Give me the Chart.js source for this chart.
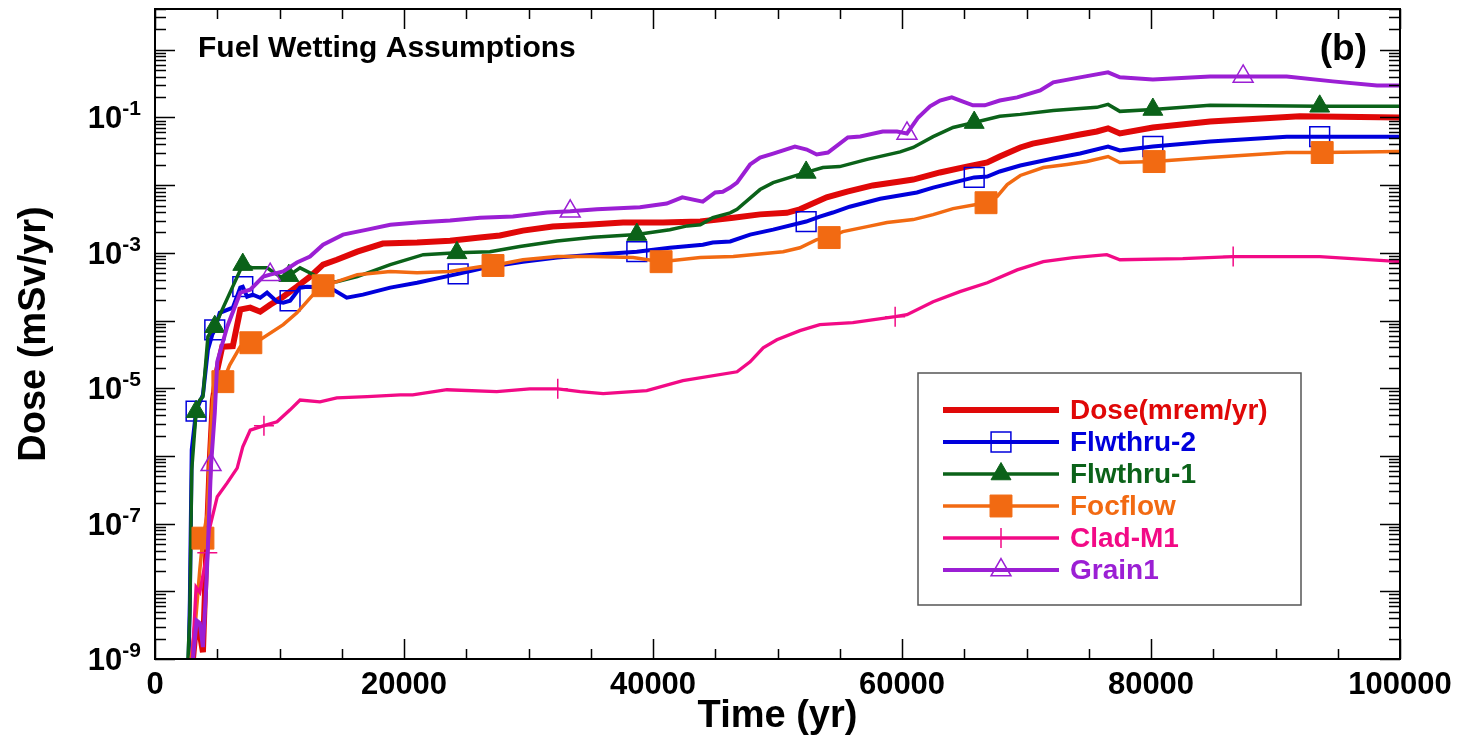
<!DOCTYPE html>
<html>
<head>
<meta charset="utf-8">
<script src="https://cdn.jsdelivr.net/npm/chart.js@4.4.1/dist/chart.umd.min.js"></script>
<style>
  html, body { margin: 0; background: #fff; }
  #wrap { width: 1463px; height: 749px; }
</style>
</head>
<body>
<div id="wrap"><canvas id="doseChart"></canvas></div>
<script>
// time (yr) and dose (mSv/yr)
const doseTime = [3050,3300,3550,3850,4100,4400,4650,5000,5400,6250,6850,7650,8450,9250,10300,11400,12450,13500,14600,16250,18300,21050,23700,26100,27700,29550,31950,34700,37600,40800,43800,46450,48600,50750,51800,53950,55600,57650,59850,60900,63050,65200,66850,67850,69500,70500,72700,74300,75650,76550,77500,80150,84750,91950,100000];
const doseVal = [1.0e-9,3.2e-9,2.7e-9,1.26e-9,2.9e-8,8.7e-7,6.7e-6,1.87e-5,4.1e-5,4.2e-5,1.45e-4,1.55e-4,1.35e-4,1.71e-4,2.25e-4,3.16e-4,4.45e-4,6.7e-4,7.9e-4,1.04e-3,1.37e-3,1.42e-3,1.51e-3,1.68e-3,1.8e-3,2.13e-3,2.44e-3,2.6e-3,2.8e-3,2.8e-3,2.9e-3,3.3e-3,3.7e-3,3.9e-3,4.4e-3,6.6e-3,8.0e-3,9.9e-3,1.13e-2,1.21e-2,1.54e-2,1.88e-2,2.16e-2,2.65e-2,3.6e-2,4.1e-2,4.9e-2,5.6e-2,6.2e-2,6.9e-2,5.8e-2,7.1e-2,8.7e-2,0.104,0.1];

const flw2Time = [2700,2800,2950,3300,3850,4250,4600,4800,5200,6250,6850,7050,7400,7850,8450,9000,9800,10300,10850,11100,11650,12200,14050,15400,16700,18900,21050,23700,24350,26900,29550,32300,35200,38700,41350,44000,44800,46200,47800,49650,52300,53400,54450,55800,58250,61200,62500,65800,66850,67850,69500,72150,74300,76550,77500,80150,84750,90900,93550,100000];
const flw2Val = [1e-9,7.4e-9,1.23e-6,4.6e-6,8.0e-6,3.7e-5,6.2e-5,7.3e-5,1.3e-4,1.55e-4,3.06e-4,3.16e-4,2.25e-4,2.41e-4,2.17e-4,2.58e-4,1.9e-4,1.83e-4,1.96e-4,2.25e-4,3.06e-4,3.16e-4,3.06e-4,2.17e-4,2.41e-4,3.06e-4,3.62e-4,4.6e-4,4.9e-4,6.25e-4,7.4e-4,8.5e-4,9.4e-4,1.04e-3,1.19e-3,1.32e-3,1.42e-3,1.47e-3,1.86e-3,2.2e-3,2.9e-3,3.43e-3,3.94e-3,4.8e-3,6.3e-3,7.8e-3,9.2e-3,1.3e-2,1.34e-2,1.59e-2,1.95e-2,2.47e-2,2.93e-2,3.72e-2,3.25e-2,3.72e-2,4.4e-2,5.2e-2,5.2e-2,5.2e-2];
const flw2Marks = [3300,4800,7050,10850,24350,38700,52300,65800,80150,93550];

const flw1Time = [2650,2800,2950,3300,3600,3850,4250,4600,4800,5400,7050,7850,9000,10050,10750,11650,12700,13500,14600,16250,18900,21550,24250,26900,29300,32300,35200,38700,41350,42750,43800,44800,46200,46750,48600,49650,52300,53650,55000,57200,59850,60900,62500,64100,65800,67850,69500,72150,75650,76550,77500,80150,84750,93550,100000];
const flw1Val = [1.0e-9,4.8e-9,6.2e-7,4.5e-6,6.7e-6,7.5e-6,5.8e-5,7.3e-5,8.1e-5,1.45e-4,6.7e-4,6.0e-4,6.0e-4,4.45e-4,4.6e-4,6.0e-4,4.8e-4,3.75e-4,3.75e-4,4.45e-4,6.7e-4,9.4e-4,1.0e-3,1.04e-3,1.24e-3,1.5e-3,1.7e-3,1.86e-3,2.2e-3,2.5e-3,2.6e-3,3.3e-3,3.9e-3,4.4e-3,8.6e-3,1.09e-2,1.54e-2,1.82e-2,1.88e-2,2.4e-2,3.1e-2,3.6e-2,5.2e-2,7.1e-2,8.4e-2,0.104,0.111,0.127,0.141,0.156,0.123,0.131,0.151,0.146,0.146];
const flw1Marks = [3300,4800,7050,10750,24250,38700,52300,65800,80150,93550];

const focTime = [2900,3200,3600,3850,4200,4400,4650,5050,5450,6000,6850,7700,8450,10300,11400,12700,13500,14600,16250,18900,21050,23700,26100,27150,29550,32300,35200,38400,40650,43800,46450,50450,51800,53150,54150,55250,57200,58800,60900,62500,64100,66750,67650,68450,69500,71350,73250,74850,76550,77500,80250,84750,90900,93750,100000];
const focVal = [1e-9,2.7e-9,2.1e-8,6.1e-8,1.4e-7,1.23e-6,7.5e-6,1.2e-5,1.25e-5,2.2e-5,4.1e-5,4.7e-5,5.2e-5,8.7e-5,1.3e-4,2.41e-4,3.27e-4,3.75e-4,4.76e-4,5.3e-4,5.1e-4,5.3e-4,6.25e-4,6.5e-4,7.9e-4,8.8e-4,8.8e-4,8.5e-4,7.4e-4,8.5e-4,8.8e-4,1.04e-3,1.19e-3,1.57e-3,1.68e-3,2.06e-3,2.44e-3,2.8e-3,3.1e-3,3.67e-3,4.5e-3,5.5e-3,6.8e-3,1.02e-2,1.39e-2,1.82e-2,2.02e-2,2.23e-2,2.65e-2,2.16e-2,2.23e-2,2.56e-2,3.03e-2,3.03e-2,3.14e-2];
const focMarks = [3850,5450,7700,13500,27150,40650,54150,66750,80250,93750];

const cladTime = [3000,3300,3600,3850,4200,4350,5000,5800,6600,7050,7650,8750,9800,10850,11650,13250,14600,17050,19700,20700,23450,27450,30100,32350,34150,36000,39500,42400,46750,47800,48850,49950,51800,53400,56050,59450,60400,62500,64650,66850,69250,71350,73750,76450,77500,82550,86600,93550,100000];
const cladVal = [1e-9,1.15e-8,9.7e-9,1.73e-8,3.7e-8,8.0e-8,2.5e-7,4.0e-7,6.6e-7,1.36e-6,2.4e-6,2.8e-6,3.2e-6,4.8e-6,6.7e-6,6.3e-6,7.2e-6,7.5e-6,8.0e-6,8.0e-6,9.5e-6,8.9e-6,9.8e-6,9.8e-6,8.9e-6,8.3e-6,9.2e-6,1.29e-5,1.75e-5,2.46e-5,3.96e-5,5.2e-5,7.1e-5,8.7e-5,9.3e-5,1.14e-4,1.22e-4,1.9e-4,2.67e-4,3.62e-4,5.6e-4,7.4e-4,8.5e-4,9.4e-4,7.9e-4,8.2e-4,8.8e-4,8.8e-4,7.4e-4];
const cladMarks = [4200,8750,32350,59450,86600];

const grainTime = [3050,3350,3600,3850,4100,4250,4500,4800,5000,5800,6850,7650,8700,9250,10300,11400,12450,13500,15100,17050,18900,21050,23700,26100,28750,31500,33350,35500,38950,41100,42350,44000,45000,45600,46200,46750,47800,48600,49650,51400,52350,53150,54050,55650,56650,58450,59600,60400,61300,62250,63050,64000,64900,65700,66650,67850,69250,71100,72150,74300,76550,77500,80150,84750,87400,90900,94600,98150,100000];
const grainVal = [1e-9,3.7e-9,3.4e-9,1.5e-9,1.04e-8,4.5e-8,7.4e-7,4.3e-6,2.46e-5,8.1e-5,2.58e-4,2.86e-4,4.45e-4,4.76e-4,5.3e-4,7.2e-4,8.8e-4,1.32e-3,1.86e-3,2.2e-3,2.6e-3,2.8e-3,3.0e-3,3.3e-3,3.43e-3,3.94e-3,4.1e-3,4.4e-3,4.7e-3,5.35e-3,6.6e-3,5.7e-3,7.8e-3,8.0e-3,9.2e-3,1.09e-2,2.02e-2,2.56e-2,2.93e-2,3.72e-2,3.36e-2,2.84e-2,3.03e-2,5.06e-2,5.24e-2,6.2e-2,6.2e-2,5.8e-2,0.1,0.146,0.178,0.198,0.172,0.151,0.151,0.178,0.198,0.251,0.33,0.391,0.463,0.391,0.365,0.404,0.404,0.404,0.341,0.297,0.297];
const grainMarks = [4500,9250,33350,60400,87400];

// axis ticks
const xTickLabels = [0, 20000, 40000, 60000, 80000, 100000];
const xMinorStep = 5000;
const yLabelExps = [-9, -7, -5, -3, -1];

const FONT = '"Liberation Sans", Arial, Helvetica, sans-serif';

function pts(t, v) {
  return t.map((x, i) => ({ x: x, y: v[i] }));
}

function series(label, t, v, marks, color, width, style, size, filled, order) {
  return {
    label: label,
    data: pts(t, v),
    borderColor: color,
    borderWidth: width,
    pointStyle: style || 'circle',
    pointBorderColor: color,
    pointBackgroundColor: filled ? color : 'rgba(0,0,0,0)',
    pointBorderWidth: filled ? 1 : 1.5,
    pointRadius: ctx => (style && ctx.raw && marks.includes(ctx.raw.x)) ? size : 0,
    pointHoverRadius: 0,
    tension: 0,
    order: order,
    markerStyle: style, markerSize: size, markerFilled: filled
  };
}

function drawMarker(ctx, style, x, y, r, color, filled) {
  ctx.save();
  ctx.strokeStyle = color;
  ctx.fillStyle = color;
  ctx.lineWidth = filled ? 1 : 1.5;
  ctx.beginPath();
  if (style === 'rect') {
    const s = r * Math.SQRT1_2;
    ctx.rect(x - s, y - s, 2 * s, 2 * s);
  } else if (style === 'triangle') {
    ctx.moveTo(x, y - r);
    ctx.lineTo(x + r * Math.sin(2 * Math.PI / 3), y + r / 2);
    ctx.lineTo(x - r * Math.sin(2 * Math.PI / 3), y + r / 2);
    ctx.closePath();
  } else if (style === 'cross') {
    ctx.moveTo(x, y - r); ctx.lineTo(x, y + r);
    ctx.moveTo(x - r, y); ctx.lineTo(x + r, y);
  }
  if (filled) ctx.fill();
  ctx.stroke();
  ctx.restore();
}

const framePlugin = {
  id: 'frame',
  afterDatasetsDraw(chart) {
    const { ctx, chartArea: a, scales: { x, y } } = chart;
    ctx.save();
    ctx.strokeStyle = '#000';
    ctx.lineWidth = 1.5;
    ctx.beginPath();
    // x ticks, inward on top and bottom
    for (let v = x.min; v <= x.max; v += xMinorStep) {
      const px = Math.round(x.getPixelForValue(v)) + 0.5;
      const len = v % 20000 === 0 ? 20 : 10;
      ctx.moveTo(px, a.bottom); ctx.lineTo(px, a.bottom - len);
      ctx.moveTo(px, a.top); ctx.lineTo(px, a.top + len);
    }
    // y ticks, every decade with minors
    for (let e = -9; e <= 1; e++) {
      for (let m = 1; m <= 9; m++) {
        const v = m * Math.pow(10, e);
        if (v < y.min * 0.999 || v > y.max) continue;
        const py = Math.round(y.getPixelForValue(v)) + 0.5;
        const len = m === 1 ? 20 : 11;
        ctx.moveTo(a.left, py); ctx.lineTo(a.left + len, py);
        ctx.moveTo(a.right, py); ctx.lineTo(a.right - len, py);
      }
    }
    ctx.stroke();
    ctx.lineWidth = 2;
    ctx.strokeRect(a.left, a.top, a.right - a.left, a.bottom - a.top);

    // y tick labels 10^n
    ctx.fillStyle = '#000';
    ctx.textAlign = 'right';
    ctx.textBaseline = 'alphabetic';
    yLabelExps.forEach(exp => {
      const py = y.getPixelForValue(Math.pow(10, exp));
      const e = String(exp);
      ctx.font = 'bold 21px ' + FONT;
      const ew = ctx.measureText(e).width;
      ctx.fillText(e, 141, py - 2);
      ctx.font = 'bold 31px ' + FONT;
      ctx.fillText('10', 141 - ew, py + 11);
    });

    // panel texts
    ctx.textAlign = 'left';
    ctx.font = 'bold 30px ' + FONT;
    ctx.fillText('Fuel Wetting Assumptions', 198, 57);
    ctx.textAlign = 'right';
    ctx.font = 'bold 37px ' + FONT;
    ctx.fillText('(b)', 1367, 60);
    ctx.restore();
  },
  afterDraw(chart) {
    const { ctx } = chart;
    const bx = 918, by = 373, bw = 383, bh = 232;
    ctx.save();
    ctx.fillStyle = '#fff';
    ctx.fillRect(bx, by, bw, bh);
    ctx.strokeStyle = '#555';
    ctx.lineWidth = 1.5;
    ctx.strokeRect(bx, by, bw, bh);
    ctx.font = 'bold 28px ' + FONT;
    ctx.textBaseline = 'middle';
    ctx.textAlign = 'left';
    chart.data.datasets.forEach((ds, i) => {
      const ly = 410 + i * 32;
      ctx.strokeStyle = ds.borderColor;
      ctx.lineWidth = ds.borderWidth;
      ctx.beginPath();
      ctx.moveTo(943, ly); ctx.lineTo(1059, ly);
      ctx.stroke();
      if (ds.markerStyle) drawMarker(ctx, ds.markerStyle, 1001, ly, ds.markerSize, ds.borderColor, ds.markerFilled);
      ctx.fillStyle = ds.borderColor;
      ctx.fillText(ds.label, 1070, ly + 1);
    });
    ctx.restore();
  }
};

new Chart(document.getElementById('doseChart'), {
  type: 'line',
  data: {
    datasets: [
      series('Dose(mrem/yr)', doseTime, doseVal, [], '#e00808', 6, null, 0, true, 6),
      series('Flwthru-2', flw2Time, flw2Val, flw2Marks, '#0000dc', 4, 'rect', 14, false, 5),
      series('Flwthru-1', flw1Time, flw1Val, flw1Marks, '#0b6219', 3.5, 'triangle', 11.5, true, 4),
      series('Focflow', focTime, focVal, focMarks, '#f26a12', 3.5, 'rect', 15.5, true, 3),
      series('Clad-M1', cladTime, cladVal, cladMarks, '#f20a86', 3.3, 'cross', 10, false, 2),
      series('Grain1', grainTime, grainVal, grainMarks, '#9b1fd4', 4, 'triangle', 11.5, false, 1)
    ]
  },
  options: {
    responsive: true,
    maintainAspectRatio: false,
    animation: false,
    events: [],
    layout: { padding: { left: 0, right: 63, top: 9, bottom: 0 } },
    plugins: {
      legend: { display: false },
      tooltip: { enabled: false }
    },
    scales: {
      x: {
        type: 'linear',
        min: 0,
        max: 100000,
        afterBuildTicks: s => { s.ticks = xTickLabels.map(v => ({ value: v })); },
        afterFit: s => { s.height = 90; },
        grid: { display: false, drawTicks: false },
        border: { display: false },
        ticks: {
          maxRotation: 0,
          autoSkip: false,
          padding: 8,
          color: '#000',
          font: { family: FONT, size: 31, weight: 'bold' },
          callback: v => String(v)
        },
        title: {
          display: true,
          text: 'Time (yr)',
          color: '#000',
          font: { family: FONT, size: 38, weight: 'bold' },
          padding: { top: 0, bottom: 10 }
        }
      },
      y: {
        type: 'logarithmic',
        min: 1e-9,
        max: 4,
        afterFit: s => { s.width = 155; },
        grid: { display: false, drawTicks: false },
        border: { display: false },
        ticks: { display: false },
        title: {
          display: true,
          text: 'Dose (mSv/yr)',
          color: '#000',
          font: { family: FONT, size: 38, weight: 'bold' },
          padding: { top: 12, bottom: 0 }
        }
      }
    }
  },
  plugins: [framePlugin]
});
</script>
</body>
</html>
